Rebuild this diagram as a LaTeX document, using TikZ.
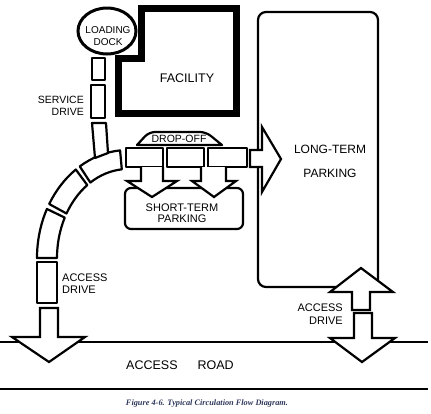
\documentclass[tikz,border=0pt]{standalone}
\usepackage{fontspec}
\setmainfont{Liberation Sans}
\newfontfamily\capfont{Liberation Serif}
\usetikzlibrary{calc}
\definecolor{capblue}{RGB}{45,55,90}

\begin{document}
\begin{tikzpicture}[x=1pt, y=-1pt,
    road/.style={draw, line width=2.2pt, fill=white, line join=round},
    flow/.style={draw, line width=2.2pt, fill=white, line join=miter},
    lbl/.style={inner sep=0pt, align=center, font=\fontsize{10.5}{12.5}\selectfont}]
  \useasboundingbox (0,0) rectangle (431,413);

  % access road
  \draw[line width=1.8pt] (0,342) -- (428,342);
  \draw[line width=1.8pt] (0,389) -- (428,389);
  \node[lbl, font=\fontsize{12.5}{14}\selectfont] (road) at (180,365) {ACCESS\hspace{20pt}ROAD};

  % facility and loading dock
  \draw[line width=6.5pt, line join=miter] (141.5,8.5) -- (236.5,8.5) -- (236.5,113.5)
    -- (118.5,113.5) -- (118.5,58.5) -- (141.5,58.5) -- cycle;
  \node[lbl, font=\fontsize{12.5}{14}\selectfont] (fac) at (187,78) {FACILITY};
  \draw[line width=3pt] (107,31) ellipse [x radius=29, y radius=23];
  \node[lbl, font=\fontsize{10}{12.5}\selectfont] (dock) at (108,36) {LOADING\\DOCK};

  % service drive
  \draw[road] (92,58) rectangle (105,80);
  \draw[road] (91,85) rectangle (105,118);
  \foreach \a/\b in {265/238, 235/210, 207/180}
    \draw[road] ($(128,258)+(\a:91 and 108)$) arc[start angle=\a, end angle=\b, x radius=91, y radius=108]
      -- ($(128,258)+(\b:71 and 89)$) arc[start angle=\b, end angle=\a, x radius=71, y radius=89] -- cycle;
  \draw[road] (92,123) -- (106,123) -- (108,153) -- (95,158) -- cycle;
  \node[lbl, anchor=east, align=right, font=\fontsize{10.5}{11.5}\selectfont] (sdrive) at (84,106) {SERVICE\\DRIVE};

  % access drive (left)
  \draw[road] (37,262) rectangle (57,303);
  \draw[flow] (40,308) -- (58,308) -- (58,337) -- (85,337) -- (49,362) -- (12,337) -- (40,337) -- cycle;
  \node[lbl, anchor=west, align=left, font=\fontsize{11}{12}\selectfont] (adrive) at (62,284) {ACCESS\\DRIVE};

  % drop-off and short-term parking
  \draw[road] (137,145) [rounded corners=6pt] -- (149,132) -- (206,132) [sharp corners] -- (222,145) -- cycle;
  \node[lbl, font=\fontsize{10.5}{12}\selectfont] (drop) at (179,139) {DROP-OFF};
  \foreach \l/\r in {126/163, 167/204, 208/247}
    \draw[road] (\l,148) rectangle (\r,167);
  \draw[road, rounded corners=6pt] (125,188) rectangle (243,229);
  \draw[flow] (141,167) -- (141,181) -- (127,181) -- (152,197) -- (177,181) -- (163,181) -- (163,167);
  \draw[flow] (201,167) -- (201,181) -- (192,181) -- (214,197) -- (236,181) -- (226,181) -- (226,167);
  \node[lbl, font=\fontsize{11}{11.5}\selectfont] (short) at (182,213) {SHORT-TERM\\PARKING};

  % long-term parking
  \draw[line width=2.2pt, rounded corners=8pt] (258,12) rectangle (378,287);
  \draw[flow] (250,150) -- (262,150) -- (262,127) -- (281,159) -- (262,192) -- (262,167) -- (250,167) -- cycle;
  \node[lbl, font=\fontsize{12}{13}\selectfont] (long) at (330,161) {LONG-TERM\\[11pt]PARKING};

  % access drive (right)
  \draw[flow] (352,310) -- (352,292) -- (330,292) -- (361,268) -- (393,292) -- (370,292) -- (370,310) -- cycle;
  \draw[flow] (354,313) -- (372,313) -- (372,338) -- (395,338) -- (362,362) -- (330,338) -- (354,338) -- cycle;
  \node[lbl, anchor=east, align=right, font=\fontsize{11}{13}\selectfont] (rdrive) at (343,314) {ACCESS\\DRIVE};

  \node[inner sep=0pt, text=capblue, font=\capfont\bfseries\itshape\fontsize{8.3}{9}\selectfont] (cap) at (207,404)
    {Figure 4-6. Typical Circulation Flow Diagram.};
\end{tikzpicture}
\end{document}
